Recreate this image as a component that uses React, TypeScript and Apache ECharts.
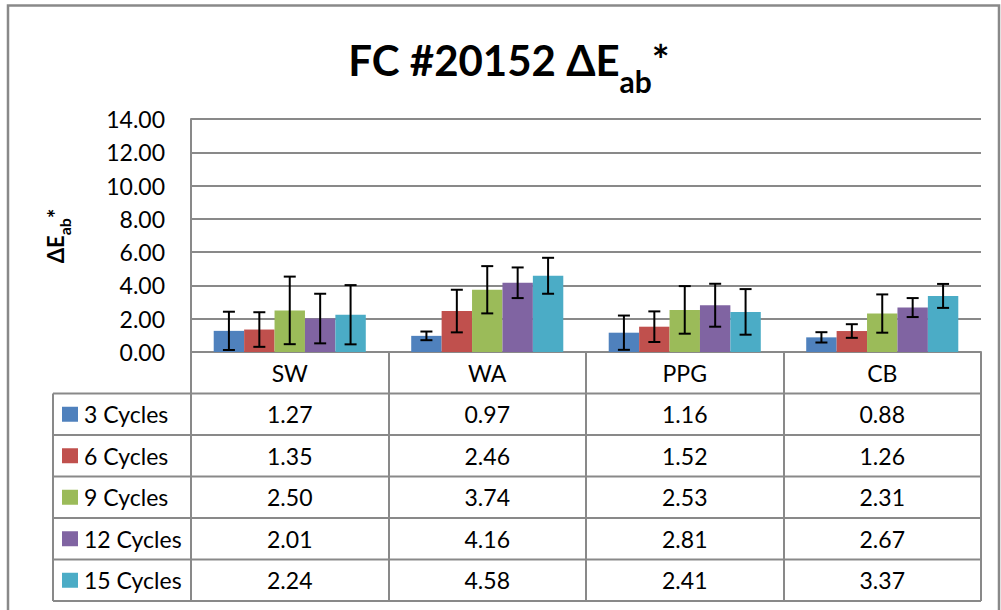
import React, { useEffect, useRef } from 'react';
import * as echarts from 'echarts';

const categories = ['SW', 'WA', 'PPG', 'CB'];
const seriesNames = ['3 Cycles', '6 Cycles', '9 Cycles', '12 Cycles', '15 Cycles'];
const seriesColors = ['#4F81BD', '#C0504D', '#9BBB59', '#8064A2', '#4BACC6'];

const cycles3 = [1.27, 0.97, 1.16, 0.88];
const cycles6 = [1.35, 2.46, 1.52, 1.26];
const cycles9 = [2.5, 3.74, 2.53, 2.31];
const cycles12 = [2.01, 4.16, 2.81, 2.67];
const cycles15 = [2.24, 4.58, 2.41, 3.37];

const err3 = [1.15, 0.26, 1.03, 0.31];
const err6 = [1.04, 1.28, 0.92, 0.41];
const err9 = [2.03, 1.42, 1.43, 1.15];
const err12 = [1.49, 0.92, 1.29, 0.57];
const err15 = [1.78, 1.08, 1.37, 0.72];

const yMin = 0;
const yMax = 14;
const yInterval = 2;

const allValues = [cycles3, cycles6, cycles9, cycles12, cycles15];
const allErrors = [err3, err6, err9, err12, err15];

const FONT = 'Lato, "Open Sans", sans-serif';
const GRAY = '#898989';
const GRID = { left: 191, top: 119, width: 790, height: 233 };
const HEADER_H = 41.5;
const ROW_H = 41.5;
const TABLE_LEFT = 53;
const CAT_GAP = 0.23;

function buildTable(): any[] {
  const els: any[] = [];
  const tableTop = GRID.top + GRID.height;
  const headerBottom = tableTop + HEADER_H;
  const right = GRID.left + GRID.width;
  const n = seriesNames.length;
  const colW = GRID.width / categories.length;
  for (let r = 0; r <= n; r++) {
    const y = headerBottom + r * ROW_H;
    els.push({ type: 'line', shape: { x1: TABLE_LEFT, y1: y, x2: right, y2: y }, style: { stroke: GRAY, lineWidth: 2 } });
  }
  els.push({ type: 'line', shape: { x1: TABLE_LEFT, y1: headerBottom, x2: TABLE_LEFT, y2: headerBottom + n * ROW_H }, style: { stroke: GRAY, lineWidth: 2 } });
  categories.forEach((c, j) => {
    els.push({
      type: 'text', x: GRID.left + colW * (j + 0.5), y: tableTop + HEADER_H / 2,
      style: { text: c, fill: '#000', fontSize: 23, fontFamily: FONT, align: 'center', textAlign: 'center', verticalAlign: 'middle', textVerticalAlign: 'middle' },
    });
  });
  seriesNames.forEach((name, i) => {
    const cy = headerBottom + ROW_H * (i + 0.5);
    els.push({ type: 'rect', shape: { x: 62, y: cy - 7.5, width: 16, height: 15 }, style: { fill: seriesColors[i] } });
    els.push({
      type: 'text', x: 84, y: cy,
      style: { text: name, fill: '#000', fontSize: 23, fontFamily: FONT, align: 'left', textAlign: 'left', verticalAlign: 'middle', textVerticalAlign: 'middle' },
    });
    allValues[i].forEach((v, j) => {
      els.push({
        type: 'text', x: GRID.left + colW * (j + 0.5), y: cy,
        style: { text: v.toFixed(2), fill: '#000', fontSize: 23, fontFamily: FONT, align: 'center', textAlign: 'center', verticalAlign: 'middle', textVerticalAlign: 'middle' },
      });
    });
  });
  return els;
}

export default function App() {
  const ref = useRef<HTMLDivElement>(null);
  useEffect(() => {
    if (!ref.current) return;
    const chart = echarts.init(ref.current, null, { renderer: 'svg' });
    const nSeries = seriesNames.length;

    const barSeries = seriesNames.map((name, i) => ({
      name,
      type: 'bar',
      data: allValues[i],
      barGap: '0%',
      barCategoryGap: CAT_GAP * 100 + '%',
      itemStyle: { color: seriesColors[i] },
      z: 2,
    }));

    const errSeries = seriesNames.map((name, i) => ({
      name: name + ' error',
      type: 'custom',
      z: 5,
      encode: { x: 0, y: 1 },
      data: categories.map((c, j) => [j, allValues[i][j], allErrors[i][j]]),
      renderItem: (params: any, api: any) => {
        const ci = api.value(0);
        const v = api.value(1);
        const e = api.value(2);
        const center = api.coord([ci, 0])[0];
        const band = api.size([1, 0])[0];
        const bw = (band * (1 - CAT_GAP)) / nSeries;
        const x = center + (i - (nSeries - 1) / 2) * bw;
        const top = api.coord([ci, v + e])[1];
        const bot = api.coord([ci, Math.max(0, v - e)])[1];
        const cap = 6;
        const st = { stroke: '#000', lineWidth: 2 };
        return {
          type: 'group',
          children: [
            { type: 'line', shape: { x1: x, y1: top, x2: x, y2: bot }, style: st },
            { type: 'line', shape: { x1: x - cap, y1: top, x2: x + cap, y2: top }, style: st },
            { type: 'line', shape: { x1: x - cap, y1: bot, x2: x + cap, y2: bot }, style: st },
          ],
        };
      },
    }));

    chart.setOption({
      animation: false,
      backgroundColor: '#fff',
      grid: { left: GRID.left, top: GRID.top, width: GRID.width, height: GRID.height, containLabel: false },
      xAxis: {
        type: 'category',
        data: categories,
        axisLabel: { show: false },
        axisLine: { show: true, lineStyle: { color: GRAY, width: 2 } },
        axisTick: { show: true, inside: false, length: HEADER_H + ROW_H * seriesNames.length, lineStyle: { color: GRAY, width: 2 } },
      },
      yAxis: {
        type: 'value',
        min: yMin,
        max: yMax,
        interval: yInterval,
        axisLine: { show: true, lineStyle: { color: GRAY, width: 2 } },
        axisTick: { show: false },
        splitLine: { lineStyle: { color: GRAY, width: 2 } },
        axisLabel: { formatter: (v: number) => v.toFixed(2), color: '#000', fontSize: 23, fontFamily: FONT, margin: 26 },
      },
      series: [...barSeries, ...errSeries],
      graphic: [
        { type: 'rect', shape: { x: 8, y: 5.5, width: 991, height: 700 }, style: { fill: 'none', stroke: GRAY, lineWidth: 2.5 }, silent: true },
        {
          type: 'text', x: 509, y: 24,
          style: {
            text: '{m|FC #20152 ΔE}{s|ab}{m|*}',
            align: 'center', textAlign: 'center', verticalAlign: 'top', textVerticalAlign: 'top',
            rich: {
              m: { fontFamily: FONT, fontWeight: 'bold', fontSize: 42, lineHeight: 72, fill: '#000', color: '#000' },
              s: { fontFamily: FONT, fontWeight: 'bold', fontSize: 30, lineHeight: 30, verticalAlign: 'bottom', fill: '#000', color: '#000' },
            },
          },
        },
        {
          type: 'text', x: 55, y: 236, rotation: Math.PI / 2,
          style: {
            text: '{m|ΔE}{s|ab}{m|*}',
            align: 'center', textAlign: 'center', verticalAlign: 'middle', textVerticalAlign: 'middle',
            rich: {
              m: { fontFamily: FONT, fontWeight: 'bold', fontSize: 22, lineHeight: 34, fill: '#000', color: '#000' },
              s: { fontFamily: FONT, fontWeight: 'bold', fontSize: 16, lineHeight: 16, verticalAlign: 'bottom', fill: '#000', color: '#000' },
            },
          },
        },
        ...buildTable(),
      ],
    });
    return () => chart.dispose();
  }, []);
  return <div ref={ref} style={{ position: 'absolute', left: 0, top: 0, width: 1001, height: 610, background: '#fff' }} />;
}
